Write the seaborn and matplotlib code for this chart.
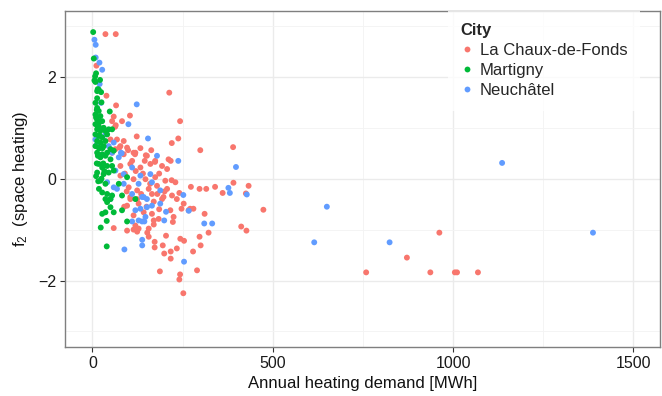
import matplotlib
matplotlib.use("Agg")
import matplotlib.pyplot as plt
from matplotlib.ticker import MultipleLocator
from matplotlib.lines import Line2D
import seaborn as sns
import pandas as pd

# ---- data ----
red_x = [36, 64.6, 11, 213, 38.8, 65.5, 104, 59, 54.5, 82, 64.6, 243, 122.8, 238, 220, 86.7, 299, 390,
         98.8, 133, 163, 75, 118, 148, 217, 173.5, 273, 297, 315.6, 340, 361, 391, 433, 425.5, 241, 219.6,
         474, 412.5, 427, 311, 322, 297, 300, 279, 290, 254, 243, 241, 252, 187, 217, 217, 199, 195,
         172.5, 172.5, 204, 59, 96, 114, 124, 152, 170, 119, 223, 247, 271, 280, 234,
         962, 872, 759, 937, 1005, 1011, 1069,
         63, 50, 68, 114, 96, 77.5, 63.7, 54.5,
         86.7, 119, 151, 174, 211, 105, 133, 160.6, 193, 77.5, 114, 147, 174, 202, 100.5, 124, 156,
         179, 207, 230, 105, 165, 197, 220.6, 124, 77.5, 207,
         128, 156, 170, 183.6, 142, 165, 216, 225, 253, 266.6, 193, 114, 96, 156, 243.6, 234, 105, 128,
         90, 140, 160, 185, 110, 135, 150, 180, 95, 120, 170, 200, 145, 88, 185]
red_y = [2.84, 2.84, 2.22, 1.69, 1.63, 1.44, 1.24, 1.22, 1.13, 1.13, 1.05, 1.13, 0.83, 0.79, 0.70, 0.74, 0.56, 0.62,
         0.56, 0.60, 0.56, 0.61, 0.48, 0.46, 0.35, 0.33, -0.16, -0.20, -0.20, -0.16, -0.28, -0.08, -0.14, -0.29, -0.28, -0.03,
         -0.61, -0.94, -1.02, -0.69, -1.06, -1.14, -1.31, -1.43, -1.80, -1.22, -1.88, -1.98, -2.25, -1.82, -1.43, -1.57, -1.47, -1.31,
         -1.35, -1.24, -1.12, -0.97, -1.02, -1.00, -1.04, -1.06, -0.90, -0.92, -0.85, -0.59, -0.59, -0.59, -0.40,
         -1.06, -1.55, -1.84, -1.84, -1.84, -1.84, -1.84,
         1.02, 0.77, 0.77, 0.51, 0.61, 0.64, 0.58, 0.51,
         0.48, 0.51, 0.45, 0.35, 0.38, 0.29, 0.22, 0.29, 0.25, 0.06, -0.01, -0.01, 0.03, -0.04, -0.17, -0.23, -0.20,
         -0.14, -0.20, -0.07, -0.36, -0.30, -0.36, -0.33, -0.40, 0.25, 0.19,
         -0.98, -0.98, -0.82, -0.79, -0.66, -0.69, -0.62, -0.75, -0.49, -0.62, -0.40, -0.72, -0.53, -1.14, -1.18, -1.37, -0.40, -0.49,
         0.10, 0.10, -0.10, 0.10, 0.35, -0.30, -0.55, -0.30, -0.25, 0.15, -0.45, -0.25, 0.35, -0.55, -0.60]

green_x = [2, 3.7, 10, 7.3, 5.5, 8.3, 21, 14.7, 13, 24, 17.4, 13, 48,
           8.3, 13, 17.4, 8.3, 22, 13, 27, 8.3, 17.4, 31, 13, 22, 36, 45, 54.5, 8.3, 17.4, 27, 40.7,
           13, 22, 36, 8.3, 17.4, 31, 50, 13, 27, 40.7, 59,
           15, 22, 36, 50, 17.4, 27, 40.7, 54.5, 13, 31, 45, 59, 73, 96, 22, 36, 27, 40.7, 54.5, 82, 36, 50,
           40.7, 119, 50, 27, 36, 59, 82, 96, 39.6, 23, 39.6,
           10, 18, 12, 20, 25, 15, 10, 18, 30, 25, 33, 20, 12, 28, 16]
green_y = [2.88, 2.36, 2.07, 2.01, 1.93, 1.90, 1.94, 1.76, 1.72, 1.70, 1.75, 1.58, 1.32,
           1.49, 1.39, 1.33, 1.26, 1.23, 1.16, 1.13, 1.07, 1.03, 1.00, 0.97, 0.94, 0.94, 0.97, 0.97, 0.87, 0.84, 0.81, 0.87,
           0.74, 0.71, 0.74, 0.64, 0.61, 0.64, 0.58, 0.51, 0.48, 0.51, 0.55,
           0.45, 0.42, 0.45, 0.38, 0.29, 0.22, 0.25, 0.25, 0.12, 0.09, 0.12, 0.16, -0.10, 0.03, -0.04, -0.10, -0.27, -0.30, -0.33, -0.33, -0.40, -0.40,
           -0.46, -0.40, -0.56, -0.69, -0.66, -0.66, -0.62, -0.84, -0.83, -0.96, -1.33,
           1.20, 1.10, 0.30, 0.60, 1.50, 1.00, 0.05, -0.20, 0.30, 0.00, 0.15, 0.85, 1.35, 0.60, -0.05]

blue_x = [5.5, 9, 9, 19.4, 27, 122.8, 99.7, 154, 81, 398, 238, 377, 381, 428, 252,
          650, 615, 310, 332, 254, 138, 138, 88.6, 110, 137.6, 144, 199, 204, 267,
          1136, 824, 1388,
          20, 24, 8.3, 11, 36, 45, 79, 59,
          54.5, 73, 63.7, 86.7, 110, 133, 160.6, 40.7, 59, 86.7, 128, 165, 188, 142, 68, 179, 110,
          50, 137.6, 151, 119, 133, 151, 165, 188, 128, 147]
blue_y = [2.73, 2.63, 2.38, 2.28, 2.14, 1.46, 1.07, 0.79, 0.50, 0.23, 0.35, -0.18, -0.28, -0.31, -0.32,
          -0.55, -1.25, -0.88, -0.88, -1.63, -1.20, -1.31, -1.39, -0.84, -0.84, -0.84, -0.82, -0.65, -0.63,
          0.31, -1.25, -1.06,
          1.86, 1.49, 0.77, 0.66, 0.87, 0.64, 0.51, 0.71,
          0.51, 0.42, 0.16, 0.09, 0.22, 0.06, 0.09, -0.07, -0.17, -0.10, -0.10, -0.07, -0.23, -0.36, -0.20, 0.45, -0.30,
          -0.40, -0.36, -0.40, -0.62, -0.59, -0.56, -0.53, -0.49, -0.82, -0.75]

cities = ["La Chaux-de-Fonds", "Martigny", "Neuchâtel"]
colors = ["#F8766D", "#00BA38", "#619CFF"]

# draw order: red, blue, green (green on top)
df = pd.concat([
    pd.DataFrame({"x": red_x, "y": red_y, "City": cities[0]}),
    pd.DataFrame({"x": blue_x, "y": blue_y, "City": cities[2]}),
    pd.DataFrame({"x": green_x, "y": green_y, "City": cities[1]}),
], ignore_index=True)

sns.set_theme(style="white")
plt.rcParams["font.family"] = ["Liberation Sans", "DejaVu Sans"]

fig = plt.figure(figsize=(6.62, 3.96), dpi=100)
ax = fig.add_axes([0.0988, 0.1245, 0.8988, 0.8485])

sns.scatterplot(data=df, x="x", y="y", hue="City", hue_order=cities,
                palette=dict(zip(cities, colors)), s=18, linewidth=0,
                alpha=1, legend=False, ax=ax, zorder=3)

ax.set_xlim(-75, 1575)
ax.set_ylim(-3.3, 3.3)
ax.xaxis.set_major_locator(MultipleLocator(500))
ax.xaxis.set_minor_locator(MultipleLocator(250))
ax.yaxis.set_major_locator(MultipleLocator(2))
ax.yaxis.set_minor_locator(MultipleLocator(1))
ax.grid(which="major", color="#EBEBEB", linewidth=1.0, zorder=0)
ax.grid(which="minor", color="#F3F3F3", linewidth=0.6, zorder=0)
ax.set_axisbelow(True)
for sp in ax.spines.values():
    sp.set_color("#7F7F7F")
    sp.set_linewidth(1.0)
ax.tick_params(which="major", direction="out", length=3.5, width=0.8,
               color="#333333", labelsize=11.5, labelcolor="#1a1a1a", pad=3,
               bottom=True, left=True)
ax.tick_params(which="minor", length=0, bottom=False, left=False)

ax.set_xlabel("Annual heating demand [MWh]", fontsize=12, color="#111111", labelpad=4)
ax.set_ylabel(r"$\mathregular{f_2}$  (space heating)", fontsize=12, color="#111111", labelpad=6)

handles = [Line2D([0], [0], marker="o", linestyle="", markersize=4.2,
                  markerfacecolor=c, markeredgewidth=0) for c in colors]
leg = ax.legend(handles, cities, title="City", loc="upper left",
                bbox_to_anchor=(0.643, 1.0), frameon=True, fontsize=12,
                title_fontsize=12, handlelength=0.8, handletextpad=0.35,
                labelspacing=0.3, borderpad=0.75, borderaxespad=0.0)
leg.get_frame().set_facecolor("white")
leg.get_frame().set_edgecolor("none")
leg.get_frame().set_boxstyle("square", pad=0)
leg.get_title().set_fontweight("bold")
leg._legend_box.align = "left"
leg.set_zorder(5)

fig.savefig("out.png", dpi=100)
